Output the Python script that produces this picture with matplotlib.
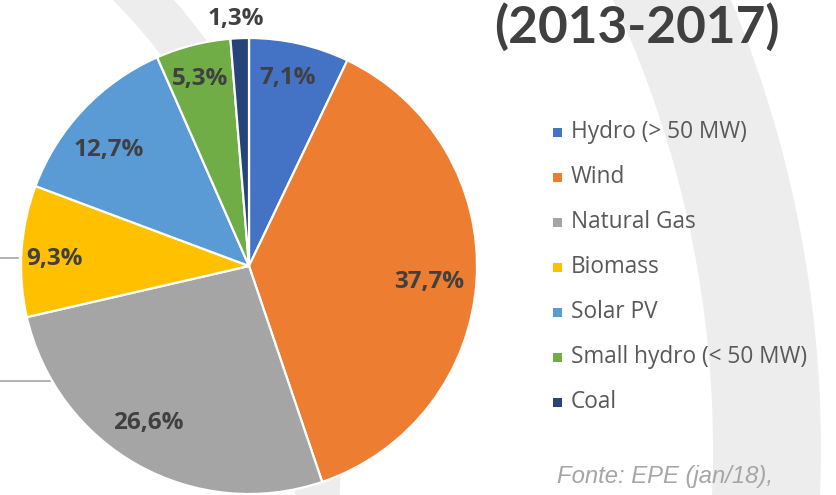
import matplotlib
matplotlib.use("Agg")
import matplotlib.pyplot as plt
from matplotlib.patches import Wedge, Rectangle
import numpy as np

# ---- data ----
categories = ["Hydro (> 50 MW)", "Wind", "Natural Gas", "Biomass",
              "Solar PV", "Small hydro (< 50 MW)", "Coal"]
shares = [7.1, 37.7, 26.6, 9.3, 12.7, 5.3, 1.3]
labels = ["7,1%", "37,7%", "26,6%", "9,3%", "12,7%", "5,3%", "1,3%"]
colors = ["#4472C4", "#ED7D31", "#A5A5A5", "#FFC000",
          "#5B9BD5", "#70AD47", "#264478"]
title_text = "(2013-2017)"
source_text = "Fonte: EPE (jan/18),"

W, H = 836, 495
fig = plt.figure(figsize=(W / 100, H / 100), dpi=100)
fig.patch.set_facecolor("white")

# background axes in pixel coordinates
bg = fig.add_axes([0, 0, 1, 1])
bg.set_xlim(0, W)
bg.set_ylim(H, 0)
bg.axis("off")
bg.add_patch(Wedge((-349, 450), 1170, 0, 360, width=108,
                   facecolor="#ededed", edgecolor="none"))
bg.add_patch(Wedge((-349, 450), 690, 0, 360, width=45,
                   facecolor="#ededed", edgecolor="none"))
bg.plot([0, 18], [258, 258], color="#a6a6a6", lw=1.2)
bg.plot([0, 50], [381, 381], color="#a6a6a6", lw=1.2)

# pie axes
cx, cy, r = 249, 266, 228
ax = fig.add_axes([(cx - r) / W, (H - cy - r) / H, 2 * r / W, 2 * r / H])
wedges, _ = ax.pie(shares, colors=colors, startangle=90, counterclock=False,
                   radius=1, wedgeprops=dict(edgecolor="white", linewidth=1.6))
ax.set_xlim(-1, 1)
ax.set_ylim(-1, 1)
ax.set_aspect("equal")
ax.axis("off")

# label placement style: radial distance and angular nudge (degrees)
label_r = [0.842, 0.793, 0.816, 0.854, 0.797, 0.848, 1.085]
label_da = [1.2, -1.7, -3.5, 1.7, 3.8, 0.5, 0.7]
for w, lab, lr, da in zip(wedges, labels, label_r, label_da):
    ang = np.deg2rad((w.theta1 + w.theta2) / 2 + da)
    ax.text(lr * np.cos(ang), lr * np.sin(ang), lab, ha="center", va="center",
            fontsize=17.5, fontweight="bold", color="#404040",
            family="Open Sans", clip_on=False)

# legend (manual)
for i, (cat, col) in enumerate(zip(categories, colors)):
    y = 132 + i * 45
    bg.add_patch(Rectangle((553, y - 4.5), 9, 9, facecolor=col, edgecolor="none"))
    bg.text(571, y, cat, ha="left", va="center", fontsize=16.3, color="#595959",
            family="Open Sans")

bg.text(494, 27, title_text, ha="left", va="center", fontsize=37,
        fontweight="bold", color="#404040", family="Lato")
bg.text(557, 477, source_text, ha="left", va="center", fontsize=17.2,
        style="italic", color="#a6a6a6", family="Liberation Sans")

fig.savefig("out.png", dpi=100, facecolor=fig.get_facecolor())
